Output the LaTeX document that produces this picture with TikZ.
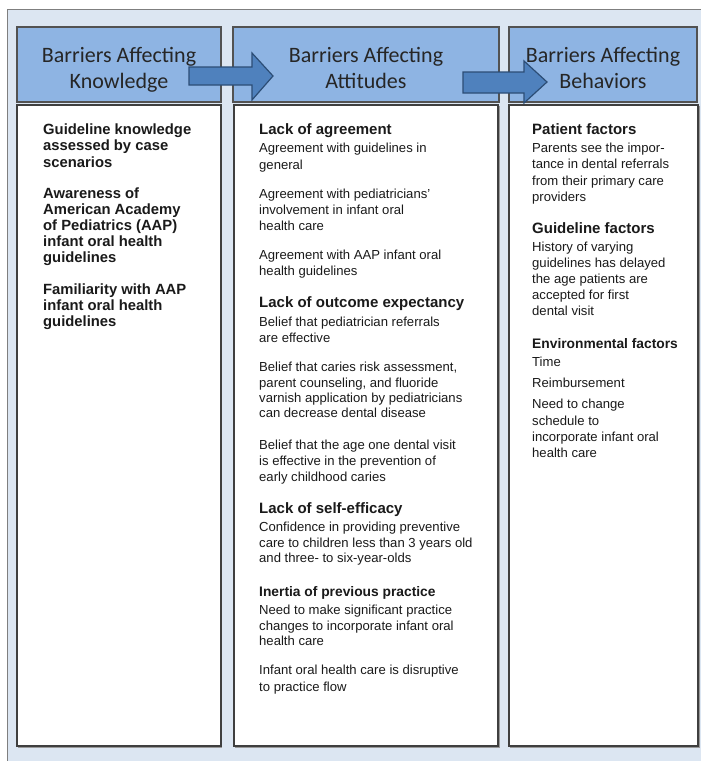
\documentclass[tikz,border=0pt]{standalone}
\usepackage{fontspec}
\setmainfont{Liberation Sans}
\newfontfamily\hdrfont{Carlito}
\definecolor{framebg}{HTML}{DCE6F2}
\definecolor{framedraw}{HTML}{7F7F7F}
\definecolor{hdrfill}{HTML}{8EB4E3}
\definecolor{boxdraw}{HTML}{3F3F3F}
\definecolor{arrowfill}{HTML}{4F81BD}
\definecolor{arrowdraw}{HTML}{2C4D75}
\definecolor{txtcol}{HTML}{1A1A1A}
\tikzset{
  txtR/.style={font=\fontsize{13.1pt}{16pt}\selectfont, text=txtcol, inner sep=0pt},
  txtH/.style={font=\fontsize{15pt}{17pt}\selectfont\bfseries, text=txtcol, inner sep=0pt},
  txtS/.style={font=\fontsize{13.8pt}{16pt}\selectfont\bfseries, text=txtcol, inner sep=0pt},
  txtB/.style={font=\fontsize{14.8pt}{16pt}\selectfont\bfseries, text=txtcol, inner sep=0pt},
  hdrtxt/.style={font=\hdrfont\fontsize{22pt}{26pt}\selectfont, text=black!85, inner sep=0pt, anchor=base},
  bodybox/.style={fill=white, draw=boxdraw, line width=1.2pt},
  hdrbox/.style={fill=hdrfill, draw=boxdraw!90, line width=1.2pt},
  shadowbox/.style={fill=black!40},
  blockarrow/.style={fill=arrowfill, draw=arrowdraw, line width=1.2pt, line join=miter}
}
\begin{document}
\begin{tikzpicture}[x=1pt,y=-1pt]
\useasboundingbox (0,0) rectangle (701,761);
% outer frame
\draw[fill=framebg, draw=framedraw, line width=1pt] (7,9) rectangle (712,775);
% body boxes with shadows
\fill[shadowbox] (18,106) rectangle (222.2,747.5);
\fill[shadowbox] (235,106) rectangle (499.5,747.5);
\fill[shadowbox] (510,106) rectangle (699.5,747.5);
\draw[bodybox] (17,105) rectangle (221,746);
\draw[bodybox] (234,105) rectangle (498,746);
\draw[bodybox] (509,105) rectangle (698,746);
% header boxes
\draw[hdrbox] (17,27) rectangle (221,102);
\draw[hdrbox] (233,27) rectangle (499,102);
\draw[hdrbox] (509,27) rectangle (697,102);
\node[hdrtxt] (h1a) at (119,62) {Barriers Affecting};
\node[hdrtxt] (h1b) at (119,88) {Knowledge};
\node[hdrtxt] (h2a) at (366,62) {Barriers Affecting};
\node[hdrtxt] (h2b) at (366,88) {Attitudes};
\node[hdrtxt] (h3a) at (603,62) {Barriers Affecting};
\node[hdrtxt] (h3b) at (603,88) {Behaviors};
% block arrows
\draw[blockarrow] (189,67) -- (252,67) -- (252,53) -- (273,76) -- (252,100) -- (252,85) -- (189,85) -- cycle;
\draw[blockarrow] (463,72) -- (524,72) -- (524,61) -- (547,82) -- (524,103) -- (524,93) -- (463,93) -- cycle;
% left column
\foreach \y/\s/\t [count=\i] in {
  134/txtB/{Guideline knowledge},
  150/txtB/{assessed by case},
  167/txtB/{scenarios},
  198/txtB/{Awareness of},
  214/txtB/{American Academy},
  230/txtB/{of Pediatrics (AAP)},
  246/txtB/{infant oral health},
  262/txtB/{guidelines},
  294/txtB/{Familiarity with AAP},
  310/txtB/{infant oral health},
  326/txtB/{guidelines}}
  \node[\s, anchor=base west] (l\i) at (43,\y) {\t};
% middle column
\foreach \y/\s/\t [count=\i] in {
  134/txtH/{Lack of agreement},
  152.5/txtR/{Agreement with guidelines in},
  169.5/txtR/{general},
  198.5/txtR/{Agreement with pediatricians'},
  214.5/txtR/{involvement in infant oral},
  230.5/txtR/{health care},
  259.5/txtR/{Agreement with AAP infant oral},
  275.5/txtR/{health guidelines},
  307/txtH/{Lack of outcome expectancy},
  326.5/txtR/{Belief that pediatrician referrals},
  342.5/txtR/{are effective},
  371.5/txtR/{Belief that caries risk assessment,},
  387.5/txtR/{parent counseling, and fluoride},
  402.5/txtR/{varnish application by pediatricians},
  417.5/txtR/{can decrease dental disease},
  449.5/txtR/{Belief that the age one dental visit},
  465.5/txtR/{is effective in the prevention of},
  481.5/txtR/{early childhood caries},
  513/txtH/{Lack of self-efficacy},
  531.5/txtR/{Confidence in providing preventive},
  547.5/txtR/{care to children less than 3 years old},
  562.5/txtR/{and three- to six-year-olds},
  596/txtS/{Inertia of previous practice},
  614.5/txtR/{Need to make significant practice},
  630.5/txtR/{changes to incorporate infant oral},
  645.5/txtR/{health care},
  674.5/txtR/{Infant oral health care is disruptive},
  691.5/txtR/{to practice flow}}
  \node[\s, anchor=base west] (m\i) at (259,\y) {\t};
% right column
\foreach \y/\s/\t [count=\i] in {
  134/txtH/{Patient factors},
  152.5/txtR/{Parents see the impor-},
  168.5/txtR/{tance in dental referrals},
  185.5/txtR/{from their primary care},
  201.5/txtR/{providers},
  233/txtH/{Guideline factors},
  251.5/txtR/{History of varying},
  267.5/txtR/{guidelines has delayed},
  283.5/txtR/{the age patients are},
  299.5/txtR/{accepted for first},
  315.5/txtR/{dental visit},
  348/txtS/{Environmental factors},
  366.5/txtR/{Time},
  387.5/txtR/{Reimbursement},
  408.5/txtR/{Need to change},
  425.5/txtR/{schedule to},
  441.5/txtR/{incorporate infant oral},
  457.5/txtR/{health care}}
  \node[\s, anchor=base west] (r\i) at (532,\y) {\t};
\end{tikzpicture}
\end{document}
